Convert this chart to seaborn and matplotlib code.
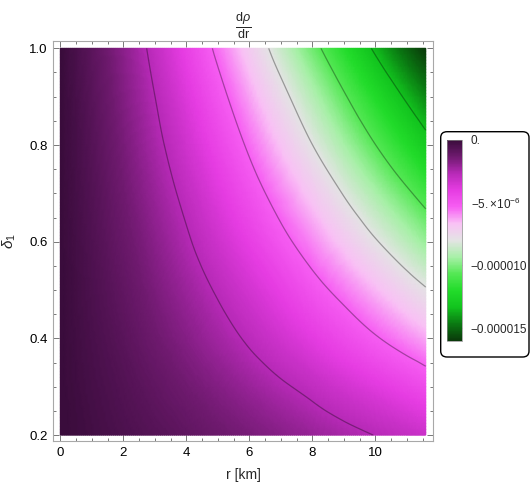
import numpy as np
import matplotlib
matplotlib.use("Agg")
import matplotlib.pyplot as plt
import matplotlib.tri as mtri
import seaborn as sns
from matplotlib.patches import FancyBboxPatch
from matplotlib.ticker import MultipleLocator

sns.set_style("ticks")
plt.rcParams['font.family'] = ['Liberation Sans', 'DejaVu Sans']
plt.rcParams['mathtext.fontset'] = 'custom'
plt.rcParams['mathtext.rm'] = 'Liberation Sans'
plt.rcParams['mathtext.it'] = 'Liberation Sans:italic'
plt.rcParams['mathtext.bf'] = 'Liberation Sans:bold'

# grid: r [km] columns, delta_1 rows
r_km = [0, 1, 2, 3, 4, 5, 6, 7, 8, 9, 10, 11, 11.6]
delta1 = [0.2, 0.3, 0.4, 0.5, 0.6, 0.7, 0.8, 0.9, 1.0]

# d rho / dr in units of -1e-6
drho_d02 = [0, 0.23, 0.47, 0.70, 0.95, 1.23, 1.50, 1.78, 2.07, 2.38, 2.69, 3.00, 3.21]
drho_d03 = [0, 0.32, 0.63, 0.97, 1.34, 1.71, 2.11, 2.53, 2.94, 3.40, 3.86, 4.34, 4.64]
drho_d04 = [0, 0.40, 0.81, 1.28, 1.75, 2.27, 2.80, 3.37, 3.96, 4.58, 5.23, 5.90, 6.32]
drho_d05 = [0, 0.48, 0.98, 1.55, 2.14, 2.77, 3.45, 4.15, 4.92, 5.70, 6.53, 7.38, 7.90]
drho_d06 = [0, 0.56, 1.16, 1.82, 2.54, 3.31, 4.12, 5.01, 5.92, 6.89, 7.90, 8.93, 9.57]
drho_d07 = [0, 0.63, 1.33, 2.10, 2.93, 3.84, 4.81, 5.84, 6.92, 8.07, 9.25, 10.45, 11.19]
drho_d08 = [0, 0.70, 1.50, 2.39, 3.35, 4.39, 5.51, 6.72, 7.99, 9.30, 10.65, 12.02, 12.85]
drho_d09 = [0, 0.77, 1.67, 2.66, 3.76, 4.95, 6.24, 7.61, 9.04, 10.52, 12.03, 13.54, 14.41]
drho_d10 = [0, 0.85, 1.85, 2.97, 4.21, 5.57, 7.04, 8.60, 10.22, 11.88, 13.54, 15.14, 16.00]

# mesh lines (equal value steps between min and max)
mesh_levels = [-13.333e-6, -10.667e-6, -8.0e-6, -5.333e-6, -2.667e-6]
vmin, vmax = -16.0e-6, 0.0

rows = [drho_d02, drho_d03, drho_d04, drho_d05, drho_d06,
        drho_d07, drho_d08, drho_d09, drho_d10]
Z = -1e-6 * np.array(rows)
R, D = np.meshgrid(r_km, delta1)

# colours like GreenPinkTones (low = green, high = purple)
tones = ["#0a3a0a", "#0a7a12", "#12c41e", "#22dc2a", "#55e855", "#a8f0a8",
         "#e4e4e4", "#f9c2f5", "#f75ef3", "#e63ce2", "#b82ab8", "#701a70",
         "#3a0c3c"]
cmap = sns.blend_palette(tones, as_cmap=True)

fig = plt.figure(figsize=(5.31, 4.96), dpi=100)
ax = fig.add_axes([53 / 531, 55 / 496, 380 / 531, 400 / 496])

# triangulate the grid (scaled so cells are near square)
tri = mtri.Triangulation(R.ravel(), D.ravel() * 12)
refiner = mtri.UniformTriRefiner(tri)
interp = mtri.CubicTriInterpolator(tri, Z.ravel(), kind='geom')
tri_f, z_f = refiner.refine_field(Z.ravel(), triinterpolator=interp, subdiv=4)
tri_f = mtri.Triangulation(tri_f.x, tri_f.y / 12, tri_f.triangles)

ax.tripcolor(tri_f, np.clip(z_f, vmin, vmax), cmap=cmap, shading='gouraud',
             vmin=vmin, vmax=vmax, rasterized=True)
ax.tricontour(tri_f, z_f, levels=mesh_levels, colors='k', alpha=0.33,
              linewidths=0.9, linestyles='solid')

ax.set_xlim(-0.232, 11.83)
ax.set_ylim(0.1878, 1.0151)
ax.set_xticks([0, 2, 4, 6, 8, 10])
ax.set_yticks([0.2, 0.4, 0.6, 0.8, 1.0])
ax.set_yticklabels(['0.2', '0.4', '0.6', '0.8', '1.0'])
ax.xaxis.set_minor_locator(MultipleLocator(0.5))
ax.yaxis.set_minor_locator(MultipleLocator(0.05))
ax.tick_params(which='both', direction='in', top=True, right=True,
               color='#777777', labelcolor='black', width=0.7, labelsize=9.5)
ax.tick_params(which='major', length=4.5, pad=4)
ax.tick_params(which='minor', length=2.5)
for s in ax.spines.values():
    s.set_color('#a8a8a8')
    s.set_linewidth(0.8)

ax.set_xlabel('r [km]', fontsize=10, labelpad=7)
ax.set_ylabel(r'$\delta_1$', fontsize=11, labelpad=8)
ax.set_title(r'$\frac{\mathrm{d}\rho}{\mathrm{dr}}$', fontsize=13, pad=6)

# legend: colour bar in a rounded box
cax = fig.add_axes([446.7 / 531, (496 - 340.7) / 496, 15.6 / 531, 200.7 / 496])
sm = plt.cm.ScalarMappable(norm=plt.Normalize(vmin, vmax), cmap=cmap)
cb = fig.colorbar(sm, cax=cax)
cb.set_ticks([0, -5e-6, -1e-5, -1.5e-5])
cb.set_ticklabels(['0.', r'$-5.{\times}10^{-6}$', '\u22120.000010', '\u22120.000015'])
cb.outline.set_linewidth(0.5)
cb.outline.set_edgecolor('#888888')
cax.tick_params(direction='in', length=4, color='#dddddd', labelsize=8.5, pad=6)

box = FancyBboxPatch((440.7 / 531, (496 - 357) / 496), (529 - 440.7) / 531,
                     (357 - 131.7) / 496, boxstyle='round,pad=0,rounding_size=0.012',
                     transform=fig.transFigure, fill=False, ec='black', lw=1.0)
fig.add_artist(box)

fig.savefig('out.png', dpi=100)
